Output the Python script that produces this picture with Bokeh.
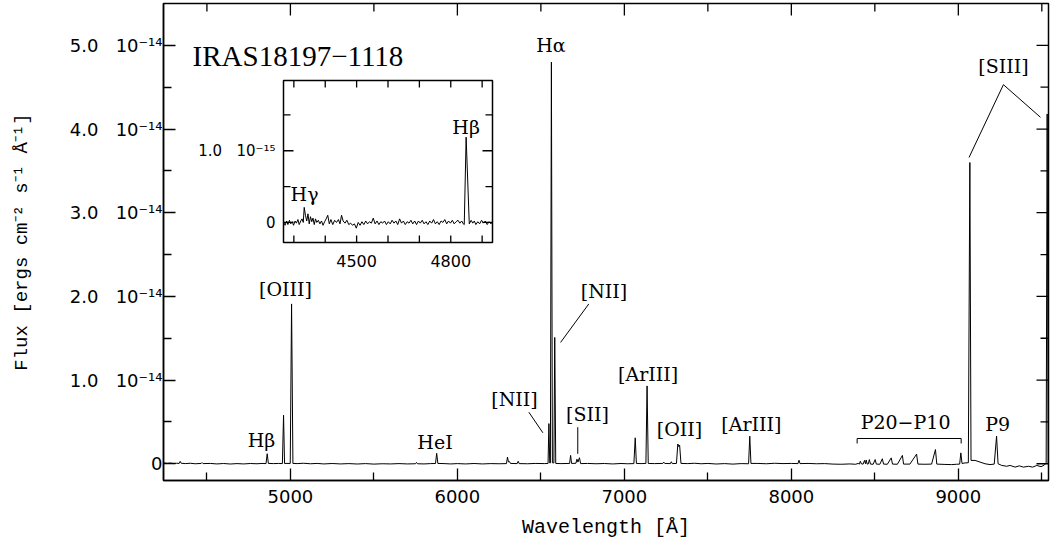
from bokeh.plotting import figure
from bokeh.models import Range1d, FixedTicker
from bokeh.core.properties import value
from bokeh.embed import file_html
from bokeh.resources import INLINE

# ---------------- data (main spectrum, flux in units of 1e-14 erg cm-2 s-1 A-1) -------------
wave = [4240, 4262, 4280, 4300, 4318, 4334, 4340, 4346, 4370, 4400, 4430, 4466, 4471, 4477,
        4520, 4560, 4600, 4640, 4680, 4720, 4760, 4800, 4830, 4854, 4861, 4868, 4900, 4930,
        4952, 4959, 4965, 4999, 5007, 5015, 5040, 5080, 5120, 5160, 5200, 5250, 5300, 5350,
        5400, 5450, 5500, 5550, 5600, 5650, 5700, 5749, 5755, 5761, 5800, 5840, 5869, 5876,
        5883, 5920, 5960, 6000, 6050, 6100, 6150, 6200, 6250, 6294, 6300, 6306, 6312, 6318,
        6358, 6364, 6370, 6420, 6470, 6520, 6543, 6548, 6553, 6557, 6563, 6569, 6578, 6583,
        6589, 6620, 6672, 6678, 6684, 6710, 6716, 6722, 6731, 6738, 6780, 6830, 6880, 6930,
        6980, 7020, 7057, 7065, 7072, 7100, 7129, 7136, 7143, 7180, 7230, 7236, 7242, 7276,
        7281, 7287, 7312, 7320, 7326, 7331, 7339, 7380, 7420, 7460, 7500, 7550, 7600, 7650,
        7700, 7744, 7751, 7758, 7800, 7850, 7900, 7950, 8000, 8040, 8046, 8052, 8100, 8150,
        8200, 8250, 8300, 8350, 8385, 8400, 8408, 8413, 8420, 8430, 8438, 8444, 8448, 8454,
        8461, 8467, 8474, 8490, 8502, 8509, 8530, 8545, 8552, 8575, 8598, 8606, 8635, 8665,
        8672, 8710, 8750, 8758, 8800, 8840, 8863, 8871, 8920, 8960, 8990, 9008, 9015, 9022,
        9040, 9060, 9069, 9076, 9100, 9130, 9160, 9190, 9215, 9229, 9238, 9260, 9290, 9310,
        9340, 9365, 9390, 9420, 9445, 9470, 9495, 9515, 9526, 9532, 9538]
flux = [0.010, 0.004, 0.008, 0.002, 0.006, 0.004, 0.028, 0.006, 0.002, 0.006, 0.000, 0.004, 0.014, 0.002,
        0.004, -0.002, 0.003, -0.003, 0.002, -0.002, 0.003, 0.000, 0.004, 0.002, 0.120, 0.004, 0.002, 0.004,
        0.002, 0.580, 0.004, 0.004, 1.910, 0.004, 0.002, 0.006, 0.000, 0.004, -0.002, 0.003, -0.002, 0.002,
        -0.003, 0.002, -0.004, 0.000, -0.002, 0.002, -0.002, 0.000, 0.016, 0.000, -0.002, 0.002, 0.003, 0.125,
        0.004, 0.002, -0.002, 0.002, -0.002, 0.003, -0.002, 0.002, 0.000, 0.002, 0.080, 0.022, 0.026, 0.004,
        0.002, 0.030, 0.002, 0.000, 0.004, 0.002, 0.004, 0.480, 0.010, 0.010, 4.800, 0.012, 0.010, 1.510,
        0.004, 0.002, 0.004, 0.100, 0.004, 0.006, 0.055, 0.020, 0.072, 0.002, 0.004, 0.000, 0.003, -0.002,
        0.003, 0.000, 0.002, 0.310, 0.004, 0.002, 0.004, 0.930, 0.004, 0.002, 0.004, 0.020, 0.004, 0.002,
        0.024, 0.002, 0.004, 0.236, 0.205, 0.222, 0.004, 0.002, 0.006, 0.000, 0.004, -0.003, 0.002, -0.004,
        0.002, 0.000, 0.330, 0.004, 0.004, 0.000, 0.006, 0.002, 0.004, 0.002, 0.042, 0.002, 0.004, 0.000,
        0.002, -0.004, -0.006, -0.002, -0.006, 0.004, -0.004, 0.030, -0.002, -0.004, 0.040, 0.000, 0.045, -0.004,
        -0.002, 0.050, -0.004, -0.006, 0.050, -0.004, -0.006, 0.060, -0.004, -0.006, 0.070, -0.004, -0.006, 0.100,
        -0.004, -0.004, 0.115, -0.004, -0.006, -0.004, 0.170, -0.004, -0.008, -0.010, -0.006, -0.004, 0.130, 0.004,
        0.010, 0.012, 3.600, 0.040, 0.040, 0.020, 0.000, -0.010, -0.004, 0.330, 0.000, -0.020, -0.030, -0.020,
        -0.040, -0.025, -0.040, -0.030, -0.040, -0.020, -0.035, -0.015, 0.010, 4.180, 0.010]

# ---------------- inset spectrum (flux in units of 1e-15) ----------------
inset_wave = [4268, 4272, 4277, 4281, 4286, 4290, 4295, 4299, 4304, 4308, 4313, 4317, 4322, 4326,
              4330, 4333, 4337, 4341, 4345, 4349, 4353, 4357, 4361, 4365, 4369, 4373, 4378, 4383,
              4388, 4393, 4398, 4403, 4408, 4413, 4418, 4424, 4430, 4436, 4442, 4447, 4452, 4457,
              4463, 4469, 4475, 4481, 4487, 4493, 4499, 4505, 4511, 4517, 4523, 4529, 4535, 4541,
              4547, 4553, 4559, 4565, 4571, 4577, 4583, 4589, 4595, 4601, 4607, 4613, 4619, 4625,
              4631, 4637, 4643, 4649, 4655, 4661, 4667, 4673, 4679, 4685, 4691, 4697, 4703, 4709,
              4715, 4721, 4727, 4733, 4739, 4745, 4751, 4757, 4763, 4769, 4775, 4781, 4787, 4793,
              4799, 4805, 4811, 4817, 4823, 4829, 4835, 4840, 4843, 4849, 4859, 4865, 4870, 4875,
              4880, 4886, 4892, 4898, 4904, 4910, 4916, 4922, 4928, 4933]
inset_flux = [0.00, -0.04, 0.02, -0.03, 0.03, -0.02, 0.01, -0.04, 0.02, -0.01, 0.04, -0.03, 0.02, 0.05,
              0.00, 0.21, 0.10, 0.02, 0.12, -0.02, 0.08, 0.01, 0.06, -0.03, 0.05, 0.00, 0.03, -0.02,
              0.02, -0.04, 0.01, 0.05, 0.10, -0.02, 0.04, -0.03, 0.03, 0.00, 0.04, -0.02, 0.10, 0.02,
              -0.01, 0.03, -0.03, -0.01, -0.04, -0.02, -0.08, 0.00, -0.04, 0.01, -0.03, 0.02, -0.02, 0.01,
              -0.01, 0.06, -0.02, 0.02, -0.03, 0.01, -0.01, 0.02, -0.03, 0.01, -0.02, 0.03, -0.01, 0.02,
              -0.03, 0.05, -0.01, 0.02, -0.03, 0.01, -0.01, 0.03, -0.02, 0.02, -0.03, 0.02, -0.01, 0.03,
              -0.02, 0.01, -0.03, 0.02, -0.01, 0.04, -0.02, 0.01, -0.03, 0.02, 0.00, 0.04, -0.02, 0.02,
              -0.01, 0.03, -0.02, 0.01, 0.03, -0.01, 0.02, -0.02, -0.03, 1.19, -0.02, 0.03, -0.01, 0.02,
              -0.03, 0.01, -0.02, 0.03, -0.01, 0.02, -0.03, 0.01, -0.02, 0.01]

# ---------------- ticks / labels ----------------
SP = "\u00a0\u00a0\u00a0"
x_major = [5000, 6000, 7000, 8000, 9000]
x_minor = [4500, 5500, 6500, 7500, 8500, 9500]
y_major = [0, 1, 2, 3, 4, 5]
y_minor = [0.5, 1.5, 2.5, 3.5, 4.5]
y_tick_labels = ["0"] + ["%d.0%s10\u207b\u00b9\u2074" % (v, SP) for v in y_major[1:]]
inset_x_ticks = [4300, 4400, 4500, 4600, 4700, 4800, 4900]
inset_x_labeled = [4500, 4800]
inset_y_major = [0.0, 1.0]
inset_y_minor = [0.5, 1.5]
inset_y_labels = ["0", "1.0" + SP + "10\u207b\u00b9\u2075"]

title_text = "IRAS18197\u22121118"

# line identifications: (text, wavelength, flux) in main data coords
line_ids = [("H\u03b1", 6560, 5.0), ("[SIII]", 9270, 4.75), ("[OIII]", 4971, 2.09),
            ("[NII]", 6878, 2.065), ("[NII]", 6342, 0.77), ("[SII]", 6779, 0.59),
            ("[ArIII]", 7142, 1.07), ("[OII]", 7330, 0.41), ("[ArIII]", 7761, 0.475),
            ("H\u03b2", 4827, 0.28), ("HeI", 5866, 0.26), ("P20\u2212P10", 8684, 0.505),
            ("P9", 9235, 0.48)]
# leader lines (x0, y0, x1, y1)
leaders = [(9270, 4.53, 9064, 3.66), (9270, 4.53, 9492, 4.14),
           (6787, 1.91, 6618, 1.45), (6428, 0.616, 6512, 0.37),
           (6721, 0.437, 6721, 0.119),
           (8394, 0.302, 9017, 0.302), (8394, 0.302, 8394, 0.242), (9017, 0.302, 9017, 0.242)]
inset_ids = [("H\u03b3", 4334, 0.39), ("H\u03b2", 4849, 1.33)]

# ---------------- geometry ----------------
W, H = 1050, 543
FL, FR, FT, FB = 163, 1048, 3, 480          # frame in pixels
XR = (4240, 9540)
YR = (-0.2, 5.5)
IX = (4267, 4933)                           # inset data range
IY = (-0.28, 1.98)
IL, IR_, IT, IB = 283, 492, 80, 242         # inset box in pixels

p = figure(width=W, height=H, x_range=Range1d(*XR), y_range=Range1d(*YR),
           output_backend="svg", toolbar_location=None,
           min_border_left=FL, min_border_right=W - FR, min_border_top=FT, min_border_bottom=H - FB,
           background_fill_color="white", border_fill_color="white")
p.grid.visible = False
p.outline_line_color = "black"
p.outline_line_width = 1.5

def style_axis(ax):
    ax.axis_line_width = 1.5
    ax.axis_line_color = "black"
    ax.major_tick_in = 12
    ax.major_tick_out = 0
    ax.minor_tick_in = 8
    ax.minor_tick_out = 0
    ax.major_tick_line_width = 1.3
    ax.minor_tick_line_width = 1.3
    ax.major_tick_line_color = "black"
    ax.minor_tick_line_color = "black"

xa = p.xaxis[0]
xa.ticker = FixedTicker(ticks=x_major, minor_ticks=x_minor)
style_axis(xa)
xa.major_label_overrides = {t: str(t) for t in x_major}
xa.major_label_text_font = "DejaVu Sans"
xa.major_label_text_font_size = "18px"
xa.major_label_text_color = "black"
xa.major_label_standoff = 9
xa.axis_label = "Wavelength [\u00c5]"
xa.axis_label_text_font = "Liberation Mono"
xa.axis_label_text_font_size = "20px"
xa.axis_label_text_font_style = "normal"
xa.axis_label_text_color = "black"
xa.axis_label_standoff = 10

ya = p.yaxis[0]
ya.ticker = FixedTicker(ticks=y_major, minor_ticks=y_minor)
style_axis(ya)
ya.major_label_overrides = {t: s for t, s in zip(y_major, y_tick_labels)}
ya.major_label_text_font = "DejaVu Sans"
ya.major_label_text_font_size = "18px"
ya.major_label_text_color = "black"
ya.major_label_standoff = 1
ya.axis_label = "Flux [ergs cm\u207b\u00b2 s\u207b\u00b9 \u00c5\u207b\u00b9]"
ya.axis_label_text_font = "Liberation Mono"
ya.axis_label_text_font_size = "19px"
ya.axis_label_text_font_style = "normal"
ya.axis_label_text_color = "black"
ya.axis_label_standoff = 34

# ticks on top and right edges (drawn from the tick lists)
px_x = (XR[1] - XR[0]) / (FR - FL)
px_y = (YR[1] - YR[0]) / (FB - FT)
sx0, sy0, sx1, sy1 = [], [], [], []
for t in x_major:
    sx0.append(t); sx1.append(t); sy0.append(YR[1]); sy1.append(YR[1] - 12 * px_y)
for t in x_minor:
    sx0.append(t); sx1.append(t); sy0.append(YR[1]); sy1.append(YR[1] - 8 * px_y)
for t in y_major:
    sy0.append(t); sy1.append(t); sx0.append(XR[1]); sx1.append(XR[1] - 12 * px_x)
for t in y_minor:
    sy0.append(t); sy1.append(t); sx0.append(XR[1]); sx1.append(XR[1] - 8 * px_x)
p.segment(x0=sx0, y0=sy0, x1=sx1, y1=sy1, line_color="black", line_width=1.3)

# main spectrum
p.line(wave, flux, line_color="black", line_width=1)

# labels
p.text(x=[t[1] for t in line_ids], y=[t[2] for t in line_ids], text=[t[0] for t in line_ids],
       text_font=value("DejaVu Serif"), text_font_size=value("19px"), text_color="black",
       text_align="center", text_baseline="middle")
p.segment(x0=[l[0] for l in leaders], y0=[l[1] for l in leaders],
          x1=[l[2] for l in leaders], y1=[l[3] for l in leaders], line_color="black", line_width=1)

# title
p.text(x=[4414], y=[4.87], text=[title_text], text_font=value("Liberation Serif"),
       text_font_size=value("29px"), text_color="black", text_align="left", text_baseline="alphabetic")

# ---------------- inset via extra ranges ----------------
sx = (IX[1] - IX[0]) / (IR_ - IL)
sy = (IY[1] - IY[0]) / (IB - IT)
p.extra_x_ranges = {"ix": Range1d(IX[0] - (IL - FL) * sx, IX[1] + (FR - IR_) * sx)}
p.extra_y_ranges = {"iy": Range1d(IY[0] - (FB - IB) * sy, IY[1] + (IT - FT) * sy)}
kw = dict(x_range_name="ix", y_range_name="iy")

p.quad(left=[IX[0]], right=[IX[1]], bottom=[IY[0]], top=[IY[1]], fill_color="white",
       line_color="black", line_width=1.5, **kw)
p.line(inset_wave, inset_flux, line_color="black", line_width=1, **kw)

tx0, ty0, tx1, ty1 = [], [], [], []
for t in inset_x_ticks:
    tx0 += [t, t]; tx1 += [t, t]
    ty0 += [IY[0], IY[1]]; ty1 += [IY[0] + 7 * sy, IY[1] - 7 * sy]
for t in inset_y_major:
    ty0 += [t, t]; ty1 += [t, t]
    tx0 += [IX[0], IX[1]]; tx1 += [IX[0] + 10 * sx, IX[1] - 10 * sx]
for t in inset_y_minor:
    ty0 += [t, t]; ty1 += [t, t]
    tx0 += [IX[0], IX[1]]; tx1 += [IX[0] + 7 * sx, IX[1] - 7 * sx]
p.segment(x0=tx0, y0=ty0, x1=tx1, y1=ty1, line_color="black", line_width=1.3, **kw)

p.text(x=inset_x_labeled, y=[IY[0] - 18 * sy] * len(inset_x_labeled), text=[str(t) for t in inset_x_labeled],
       text_font=value("DejaVu Sans"), text_font_size=value("16px"), text_color="black",
       text_align="center", text_baseline="middle", **kw)
p.text(x=[IX[0] - 8 * sx] * len(inset_y_major), y=inset_y_major, text=inset_y_labels,
       text_font=value("DejaVu Sans"), text_font_size=value("15px"), text_color="black",
       text_align="right", text_baseline="middle", **kw)
p.text(x=[t[1] for t in inset_ids], y=[t[2] for t in inset_ids], text=[t[0] for t in inset_ids],
       text_font=value("DejaVu Serif"), text_font_size=value("19px"), text_color="black",
       text_align="center", text_baseline="middle", **kw)

open("out.html", "w").write(file_html(p, INLINE))
